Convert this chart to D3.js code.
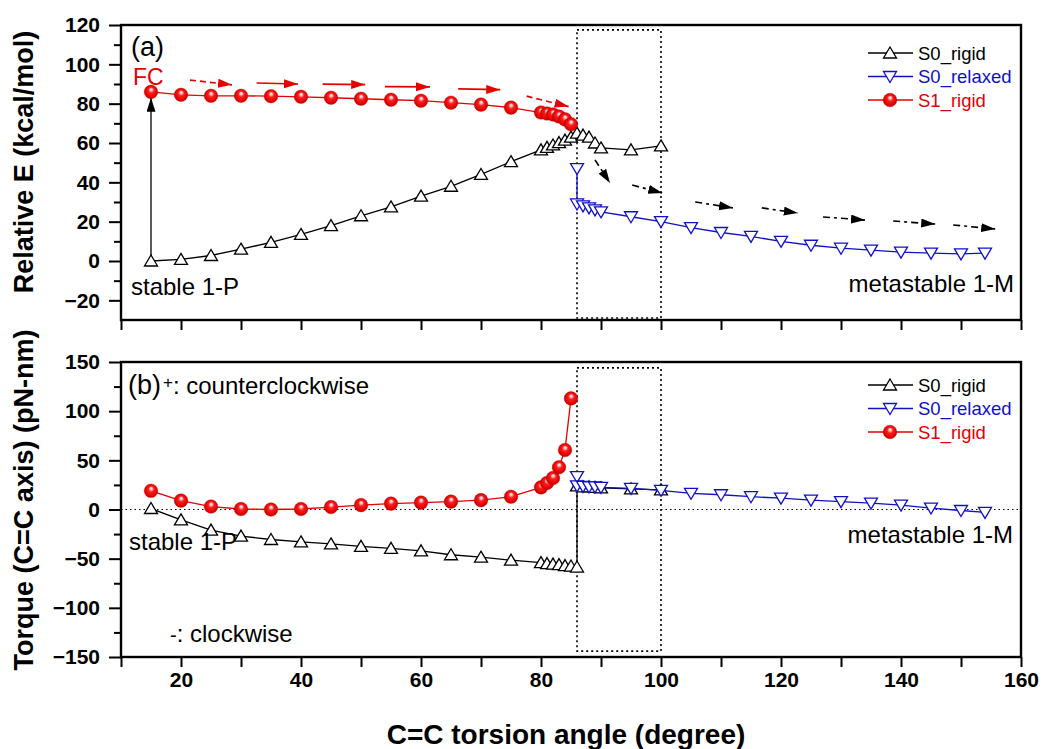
<!DOCTYPE html>
<html><head><meta charset="utf-8">
<script src="https://cdn.jsdelivr.net/npm/d3@7"></script>
<style>
body{margin:0;background:#fff;}
text{font-family:"Liberation Sans",Arial,Helvetica,sans-serif;}
</style>
</head><body>
<svg id="chart" width="1043" height="749"></svg>
<script>
// ---------------- data ----------------
const anglesS0rigid = [15,20,25,30,35,40,45,50,55,60,65,70,75,80,81,82,83,84,85,86,87,88,89,90,95,100];
const energyS0rigid = [0,0.8,2.8,6,9.5,13.5,18,23,27.5,33,38,44,50.5,56.5,57.8,59,60.2,61.5,63,65,64,63,60,57.5,56.5,58.5];
const anglesS0rigidTorque = [15,20,25,30,35,40,45,50,55,60,65,70,75,80,81,82,83,84,85,86,86,87,88,89,90,95,100];
const torqueS0rigid = [1,-10.5,-21,-27,-30.5,-33,-35,-37.5,-39.5,-42,-46,-48.5,-51.5,-54,-55,-55.5,-56,-57,-57.5,-58.5,24,23,23,22.5,22,21,20];

const anglesS1rigid = [15,20,25,30,35,40,45,50,55,60,65,70,75,80,81,82,83,84,85];
const energyS1rigid = [86,84.5,84,84,83.8,83.5,83,82.5,82,81.5,80.5,79.5,78,75.5,75,74.5,73.5,72,69.5];
const torqueS1rigid = [19,9,3,0.5,0,0.5,2.5,4.5,6,7,8,9.5,13,22.5,27,32,43,60.5,113];

const anglesS0relaxed = [86,86,87,88,89,90,95,100,105,110,115,120,125,130,135,140,145,150,154];
const energyS0relaxed = [47,29,28,27,26,25,22.5,20,17,14.5,12.5,10,8,6.5,5.5,4.5,4,3.6,4];
const torqueS0relaxed = [33.5,24,23.5,23,23,22.5,21.5,19.5,16.5,15,13,11.5,9.5,8,6.5,4.5,1.5,-1,-3];

const xTicks = [10,20,30,40,50,60,70,80,90,100,110,120,130,140,150,160];
const xTickLabels = [20,40,60,80,100,120,140,160];
const energyTicks = [-20,0,20,40,60,80,100,120];
const energyMinor = [-10,10,30,50,70,90,110];
const torqueTicks = [-150,-100,-50,0,50,100,150];
const torqueMinor = [-125,-75,-25,25,75,125];

const seriesNames = ["S0_rigid","S0_relaxed","S1_rigid"];
// dashed window (angle range, energy range, torque range)
const windowAngles = [86,100];
const windowEnergy = [-29,117.5];
const windowTorque = [-144,144];
// annotation arrows in data units [x1,y1,x2,y2,dashed]
const redArrows = [[21.5,92,28.5,89.6,1],[32.6,90.5,39.5,90,0],[43.6,89.9,50.7,89.7,0],[54,88.7,61.5,88.5,0],[66.2,87.5,73.2,87.1,0],[77.6,83.8,84.6,78.5,1]];
const blackArrows = [[89,51.4,91.5,39.7],[95.2,38.6,100.2,34.6],[105.7,30,112,27],[116.8,27,122.8,24.4],[127,22.4,134,20.8],[138.7,20.3,145.7,18.8],[148.7,18.3,155.7,16.3]];
const excitationArrow = [15,0,15,83];

// ---------------- layout ----------------
const svg = d3.select("#chart");
const left = 121, right = 1021;
const top1 = 25, bot1 = 320, top2 = 362, bot2 = 657;
const x = d3.scaleLinear().domain([10,160]).range([left,right]);
const y1 = d3.scaleLinear().domain([-30,120]).range([bot1,top1]);
const y2 = d3.scaleLinear().domain([-150,150]).range([bot2,top2]);

const RED = "#e60000", BLUE = "#1010c8", BLACK = "#000";

const defs = svg.append("defs");
const grad = defs.append("radialGradient").attr("id","ball")
  .attr("cx","50%").attr("cy","50%").attr("r","55%").attr("fx","52%").attr("fy","30%");
[[0,"#ffffff"],[0.16,"#ffc0c0"],[0.38,"#ff1e1e"],[0.8,"#e00000"],[1,"#a80000"]]
  .forEach(s=>grad.append("stop").attr("offset",s[0]).attr("stop-color",s[1]));
function headMarker(id,color){
  defs.append("marker").attr("id",id).attr("markerUnits","userSpaceOnUse")
    .attr("markerWidth",16).attr("markerHeight",10).attr("refX",14).attr("refY",4.5)
    .attr("orient","auto").append("path").attr("d","M0,0 L14,4.5 L0,9 Z").attr("fill",color);
}
headMarker("hr",RED); headMarker("hk",BLACK);

const triUp = "M0,-6 L6.5,5 L-6.5,5 Z";
const triDown = "M0,6 L6.5,-5 L-6.5,-5 Z";

function drawSeries(g, xs, ys, yScale, kind){
  const pts = xs.map((a,i)=>[x(a), yScale(ys[i])]);
  const color = kind==="up"?BLACK:(kind==="down"?BLUE:RED);
  g.append("path").attr("d",d3.line()(pts)).attr("fill","none")
    .attr("stroke",color).attr("stroke-width",1.3);
  pts.forEach(p=>{
    if(kind==="ball"){
      g.append("circle").attr("cx",p[0]).attr("cy",p[1]).attr("r",6.8)
        .attr("fill","url(#ball)").attr("stroke","#c00000").attr("stroke-width",0.4);
    } else {
      g.append("path").attr("d",kind==="up"?triUp:triDown)
        .attr("transform",`translate(${p[0]},${p[1]})`)
        .attr("fill","#fff").attr("stroke",color).attr("stroke-width",1.3);
    }
  });
}

function drawAxes(yScale, major, minor, top, bot, showXLabels){
  const gy = svg.append("g").attr("transform",`translate(${left},0)`)
    .call(d3.axisLeft(yScale).tickValues(major).tickSize(12).tickPadding(9).tickFormat(d3.format("d")));
  gy.select(".domain").remove();
  gy.selectAll("line").attr("stroke-width",2);
  gy.selectAll("text").attr("font-size",21).attr("font-weight","bold")
    .attr("font-family","'Liberation Sans',Arial,sans-serif").attr("fill","#000");
  const gym = svg.append("g").attr("transform",`translate(${left},0)`)
    .call(d3.axisLeft(yScale).tickValues(minor).tickSize(7).tickFormat(""));
  gym.select(".domain").remove();
  gym.selectAll("line").attr("stroke-width",2);

  const gx = svg.append("g").attr("transform",`translate(0,${bot})`)
    .call(d3.axisBottom(x).tickValues(xTicks).tickSize(10).tickPadding(5)
      .tickFormat(d=> (showXLabels && xTickLabels.includes(d)) ? d : ""));
  gx.select(".domain").remove();
  gx.selectAll("line").attr("stroke-width",2);
  gx.selectAll("text").attr("font-size",21).attr("font-weight","bold")
    .attr("font-family","'Liberation Sans',Arial,sans-serif").attr("fill","#000");

  svg.append("rect").attr("x",left).attr("y",top).attr("width",right-left).attr("height",bot-top)
    .attr("fill","none").attr("stroke","#000").attr("stroke-width",2.4);
}

function drawLegend(y0){
  const g = svg.append("g");
  const cols = [BLACK,BLUE,RED], kinds=["up","down","ball"];
  seriesNames.forEach((n,i)=>{
    const yy = y0 + i*23.5;
    g.append("line").attr("x1",868).attr("x2",913).attr("y1",yy).attr("y2",yy)
      .attr("stroke",cols[i]).attr("stroke-width",1.3);
    if(kinds[i]==="ball"){
      g.append("circle").attr("cx",890).attr("cy",yy).attr("r",6.8).attr("fill","url(#ball)")
        .attr("stroke","#c00000").attr("stroke-width",0.4);
    } else {
      g.append("path").attr("d",kinds[i]==="up"?triUp:triDown).attr("transform",`translate(890,${yy})`)
        .attr("fill","#fff").attr("stroke",cols[i]).attr("stroke-width",1.3);
    }
    g.append("text").attr("x",918).attr("y",yy+6.5).attr("font-size",18.5)
      .attr("fill",cols[i]).text(n);
  });
}

function drawWindow(yScale, yr){
  svg.append("rect").attr("x",x(windowAngles[0])).attr("y",yScale(yr[1]))
    .attr("width",x(windowAngles[1])-x(windowAngles[0])).attr("height",yScale(yr[0])-yScale(yr[1]))
    .attr("fill","none").attr("stroke","#000").attr("stroke-width",1.6).attr("stroke-dasharray","2,3");
}

// ---------------- panel (a) ----------------
drawWindow(y1, windowEnergy);
const gA = svg.append("g");
gA.append("line").attr("x1",x(excitationArrow[0])).attr("y1",y1(excitationArrow[1]))
  .attr("x2",x(excitationArrow[2])).attr("y2",y1(excitationArrow[3]))
  .attr("stroke","#000").attr("stroke-width",1.3).attr("marker-end","url(#hk)");
drawSeries(gA, anglesS0rigid, energyS0rigid, y1, "up");
drawSeries(gA, anglesS0relaxed, energyS0relaxed, y1, "down");
drawSeries(gA, anglesS1rigid, energyS1rigid, y1, "ball");
redArrows.forEach(a=>{
  gA.append("line").attr("x1",x(a[0])).attr("y1",y1(a[1])).attr("x2",x(a[2])).attr("y2",y1(a[3]))
    .attr("stroke",RED).attr("stroke-width",1.7).attr("stroke-dasharray",a[4]?"6,4":null)
    .attr("marker-end","url(#hr)");
});
blackArrows.forEach(a=>{
  gA.append("line").attr("x1",x(a[0])).attr("y1",y1(a[1])).attr("x2",x(a[2])).attr("y2",y1(a[3]))
    .attr("stroke","#000").attr("stroke-width",1.6).attr("stroke-dasharray","7,4,3,4")
    .attr("marker-end","url(#hk)");
});
drawAxes(y1, energyTicks, energyMinor, top1, bot1, false);
drawLegend(53);
svg.append("text").attr("x",131).attr("y",56).attr("font-size",27).text("(a)");
svg.append("text").attr("x",133).attr("y",85).attr("font-size",23).attr("fill",RED).text("FC");
svg.append("text").attr("x",131).attr("y",295).attr("font-size",24).text("stable 1-P");
svg.append("text").attr("x",1014).attr("y",292).attr("font-size",24).attr("text-anchor","end").text("metastable 1-M");

// ---------------- panel (b) ----------------
drawWindow(y2, windowTorque);
svg.append("line").attr("x1",left).attr("x2",right).attr("y1",y2(0)).attr("y2",y2(0))
  .attr("stroke","#000").attr("stroke-width",1.2).attr("stroke-dasharray","1.5,3");
const gB = svg.append("g");
drawSeries(gB, anglesS0rigidTorque, torqueS0rigid, y2, "up");
drawSeries(gB, anglesS0relaxed, torqueS0relaxed, y2, "down");
drawSeries(gB, anglesS1rigid, torqueS1rigid, y2, "ball");
drawAxes(y2, torqueTicks, torqueMinor, top2, bot2, true);
drawLegend(385);
const tb = svg.append("text").attr("x",128).attr("y",394).attr("font-size",27);
tb.append("tspan").text("(b)");
tb.append("tspan").attr("font-size",17).attr("dy",-6).attr("dx",2).text("+");
tb.append("tspan").attr("font-size",24).attr("dy",6).text(": counterclockwise");
svg.append("text").attr("x",129).attr("y",550).attr("font-size",24).text("stable 1-P");
svg.append("text").attr("x",1013).attr("y",543).attr("font-size",24).attr("text-anchor","end").text("metastable 1-M");
const tc = svg.append("text").attr("x",170).attr("y",642).attr("font-size",24);
tc.append("tspan").attr("font-size",20).text("-");
tc.append("tspan").text(": clockwise");

// ---------------- axis titles ----------------
svg.append("text").attr("transform","translate(33,162) rotate(-90)").attr("text-anchor","middle")
  .attr("font-size",27).attr("font-weight","bold").text("Relative E (kcal/mol)");
svg.append("text").attr("transform","translate(33,500) rotate(-90)").attr("text-anchor","middle")
  .attr("font-size",27).attr("font-weight","bold").text("Torque (C=C axis) (pN-nm)");
svg.append("text").attr("x",566).attr("y",744).attr("text-anchor","middle")
  .attr("font-size",28).attr("font-weight","bold").text("C=C torsion angle (degree)");
</script>
</body></html>
